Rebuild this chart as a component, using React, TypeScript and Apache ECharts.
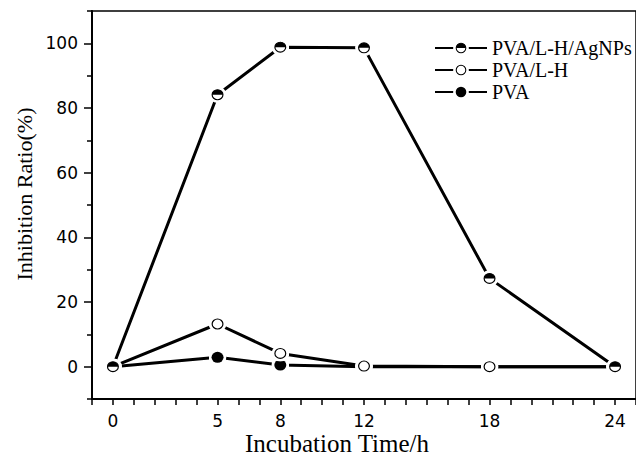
import React, { useEffect, useRef } from "react";
import * as echarts from "echarts";

const times = [0, 5, 8, 12, 18, 24];
const agnpsValues = [0, 84.1, 98.8, 98.6, 27.3, 0];
const lhValues = [0, 13.2, 4.1, 0.2, 0, 0];
const pvaValues = [0, 2.9, 0.5, 0, 0, 0];
const xTickLabels = [0, 5, 8, 12, 18, 24];
const yTickLabels = [0, 20, 40, 60, 80, 100];
const yMinorTicks = [-10, 10, 30, 50, 70, 90, 110];
const seriesNames = ["PVA/L-H/AgNPs", "PVA/L-H", "PVA"];

function svgUri(inner: string) {
  const svg = `<svg xmlns="http://www.w3.org/2000/svg" width="36" height="36" viewBox="0 0 18 18"><circle cx="9" cy="9" r="8.9" fill="#ffffff"/>${inner}</svg>`;
  return "image://data:image/svg+xml;base64," + btoa(svg);
}

const halfSymbol = svgUri(
  `<circle cx="9" cy="9" r="5.4" fill="#ffffff" stroke="#000000" stroke-width="1.2"/><path d="M3.6 9 A5.4 5.4 0 0 1 14.4 9 Z" fill="#000000"/>`
);
const openSymbol = svgUri(
  `<circle cx="9" cy="9" r="5.4" fill="#ffffff" stroke="#000000" stroke-width="1.2"/>`
);
const filledSymbol = svgUri(
  `<circle cx="9" cy="9" r="6" fill="#000000"/>`
);

function pairs(xs: number[], ys: number[]) {
  return xs.map((x, i) => [x, ys[i]]);
}

export default function App() {
  const ref = useRef<HTMLDivElement>(null);
  useEffect(() => {
    if (!ref.current) return;
    const chart = echarts.init(ref.current, null, { renderer: "svg" });
    const tickFont = { fontFamily: "DejaVu Sans", fontSize: 17, color: "#000" };
    const lineCommon = {
      type: "line" as const,
      symbolSize: [18, 16.5],
      lineStyle: { color: "#000", width: 3 },
      itemStyle: { color: "#000" },
      color: "#000",
    };
    chart.setOption({
      animation: false,
      backgroundColor: "#fff",
      grid: {
        left: 92,
        top: 11,
        right: -10,
        bottom: 56,
        show: true,
        borderColor: "#000",
        borderWidth: 1.5,
        containLabel: false,
      },
      legend: {
        data: seriesNames,
        orient: "vertical",
        left: 429,
        top: 33,
        itemWidth: 52,
        itemHeight: 20,
        itemGap: 2,
        textStyle: { fontFamily: "Liberation Serif", fontSize: 20, color: "#000" },
      },
      xAxis: {
        type: "value",
        min: -1,
        max: 25,
        interval: 1,
        axisLine: { show: true, onZero: false, lineStyle: { color: "#000", width: 2 } },
        axisTick: { show: true, length: 6, lineStyle: { color: "#000", width: 1.5 } },
        axisLabel: {
          ...tickFont,
          margin: 13,
          customValues: xTickLabels,
          formatter: (v: number) => (xTickLabels.includes(v) ? String(v) : ""),
        },
        splitLine: { show: false },
      },
      yAxis: [
        {
          type: "value",
          min: -10,
          max: 110,
          interval: 10,
          axisLine: { show: true, onZero: false, lineStyle: { color: "#000", width: 2 } },
          axisTick: {
            show: true,
            length: 8,
            customValues: yTickLabels,
            lineStyle: { color: "#000", width: 1.5 },
          },
          axisLabel: {
            ...tickFont,
            margin: 14,
            customValues: yTickLabels,
            formatter: (v: number) => (yTickLabels.includes(v) ? String(v) : ""),
          },
          splitLine: { show: false },
        },
        {
          type: "value",
          position: "left",
          min: -10,
          max: 110,
          interval: 10,
          axisLine: { show: false, onZero: false },
          axisTick: {
            show: true,
            length: 5,
            customValues: yMinorTicks,
            lineStyle: { color: "#000", width: 1.5 },
          },
          axisLabel: { show: false },
          splitLine: { show: false },
        },
      ],
      graphic: [
        {
          type: "text",
          x: 337,
          y: 443,
          style: {
            text: "Incubation Time/h",
            fontFamily: "Liberation Serif",
            fontSize: 25,
            fill: "#000",
            align: "center",
            verticalAlign: "middle",
          },
        },
        {
          type: "text",
          x: 24,
          y: 194,
          rotation: Math.PI / 2,
          style: {
            text: "Inhibition Ratio(%)",
            fontFamily: "Liberation Serif",
            fontSize: 22,
            fill: "#000",
            align: "center",
            verticalAlign: "middle",
          },
        },
      ],
      series: [
        { ...lineCommon, name: seriesNames[2], symbol: filledSymbol, data: pairs(times, pvaValues) },
        { ...lineCommon, name: seriesNames[1], symbol: openSymbol, data: pairs(times, lhValues) },
        { ...lineCommon, name: seriesNames[0], symbol: halfSymbol, data: pairs(times, agnpsValues) },
      ],
    });
    return () => chart.dispose();
  }, []);
  return (
    <div
      ref={ref}
      style={{ position: "fixed", left: 0, top: 0, width: 636, height: 455 }}
    />
  );
}
